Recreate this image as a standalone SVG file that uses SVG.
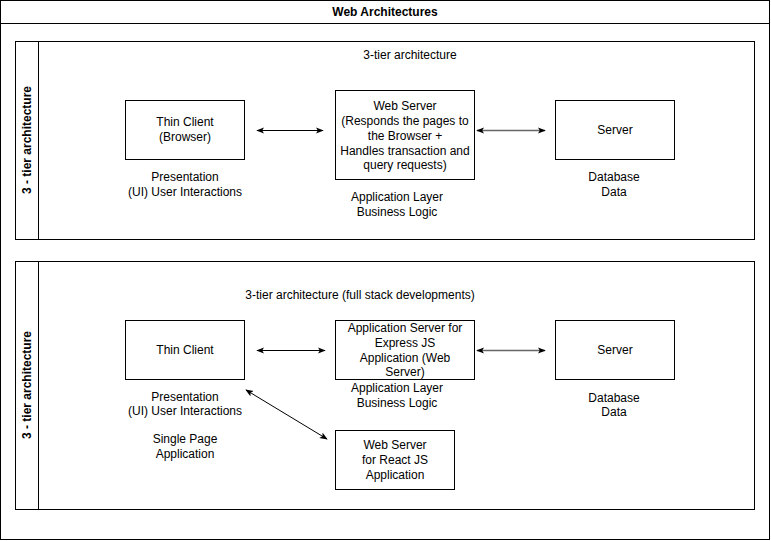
<svg xmlns="http://www.w3.org/2000/svg" width="771" height="541" viewBox="0 0 771 541">
  <style>
    .frame { fill: #ffffff; stroke: #000000; stroke-width: 1; }
    .box { fill: #ffffff; stroke: #000000; stroke-width: 1; }
    text { font-family: "Liberation Sans", Arial, sans-serif; font-size: 12px; fill: #000000; }
    .title { font-weight: bold; }
    .lane { font-weight: bold; }
    .edge { fill: none; stroke: #000000; stroke-width: 1; }
    .edge-grey { fill: none; stroke: #666666; stroke-width: 1.5; }
  </style>
  <defs>
    <marker id="arrowEnd" viewBox="0 0 10 10" refX="9" refY="5" markerWidth="8" markerHeight="8" markerUnits="userSpaceOnUse" orient="auto">
      <path d="M0,1 L10,5 L0,9 L2.5,5 Z" fill="#000000"/>
    </marker>
    <marker id="arrowStart" viewBox="0 0 10 10" refX="1" refY="5" markerWidth="8" markerHeight="8" markerUnits="userSpaceOnUse" orient="auto">
      <path d="M10,1 L0,5 L10,9 L7.5,5 Z" fill="#000000"/>
    </marker>
  </defs>

  <rect width="771" height="541" fill="#ffffff"/>

  <!-- outer container -->
  <g id="container">
    <rect class="frame" x="0.5" y="0.5" width="769" height="539"/>
    <line x1="0.5" y1="23.5" x2="769.5" y2="23.5" stroke="#000000"/>
    <text class="title" x="385" y="16" text-anchor="middle">Web Architectures</text>
  </g>

  <!-- first pool -->
  <g id="pool-top">
    <rect class="frame" x="15.5" y="41.5" width="739" height="198"/>
    <line x1="38.5" y1="41.5" x2="38.5" y2="239.5" stroke="#000000"/>
    <text class="lane" transform="translate(31 140) rotate(-90)" text-anchor="middle">3 - tier architecture</text>
    <text x="410" y="59" text-anchor="middle">3-tier architecture</text>
  </g>

  <!-- second pool -->
  <g id="pool-bottom">
    <rect class="frame" x="15.5" y="261.5" width="739" height="248"/>
    <line x1="38.5" y1="261.5" x2="38.5" y2="509.5" stroke="#000000"/>
    <text class="lane" transform="translate(31 385) rotate(-90)" text-anchor="middle">3 - tier architecture</text>
    <text x="360" y="299" text-anchor="middle">3-tier architecture (full stack developments)</text>
  </g>

  <!-- top row nodes -->
  <g id="thin-client-browser">
    <rect class="box" x="125.5" y="100.5" width="119" height="59"/>
    <text x="185" y="126" text-anchor="middle">Thin Client</text>
    <text x="185" y="141" text-anchor="middle">(Browser)</text>
  </g>
  <g id="web-server">
    <rect class="box" x="335.5" y="90.5" width="139" height="89"/>
    <text x="405" y="110" text-anchor="middle">Web Server</text>
    <text x="405" y="125" text-anchor="middle">(Responds the pages to</text>
    <text x="405" y="140" text-anchor="middle">the Browser +</text>
    <text x="405" y="155" text-anchor="middle">Handles transaction and</text>
    <text x="405" y="169" text-anchor="middle">query requests)</text>
  </g>
  <g id="db-server-top">
    <rect class="box" x="555.5" y="100.5" width="119" height="59"/>
    <text x="615" y="134" text-anchor="middle">Server</text>
  </g>
  <g id="labels-top">
    <text x="185" y="181" text-anchor="middle">Presentation</text>
    <text x="185" y="196" text-anchor="middle">(UI) User Interactions</text>
    <text x="397" y="201" text-anchor="middle">Application Layer</text>
    <text x="397" y="216" text-anchor="middle">Business Logic</text>
    <text x="614" y="181" text-anchor="middle">Database</text>
    <text x="614" y="196" text-anchor="middle">Data</text>
  </g>

  <!-- bottom row nodes -->
  <g id="thin-client">
    <rect class="box" x="125.5" y="320.5" width="119" height="59"/>
    <text x="185" y="354" text-anchor="middle">Thin Client</text>
  </g>
  <g id="app-server">
    <rect class="box" x="335.5" y="320.5" width="139" height="59"/>
    <text x="405" y="332" text-anchor="middle">Application Server for</text>
    <text x="405" y="347" text-anchor="middle">Express JS</text>
    <text x="405" y="362" text-anchor="middle">Application (Web</text>
    <text x="405" y="376" text-anchor="middle">Server)</text>
  </g>
  <g id="db-server-bottom">
    <rect class="box" x="555.5" y="320.5" width="119" height="59"/>
    <text x="615" y="354" text-anchor="middle">Server</text>
  </g>
  <g id="react-server">
    <rect class="box" x="335.5" y="430.5" width="119" height="59"/>
    <text x="395" y="449" text-anchor="middle">Web Server</text>
    <text x="395" y="464" text-anchor="middle">for React JS</text>
    <text x="395" y="479" text-anchor="middle">Application</text>
  </g>
  <g id="labels-bottom">
    <text x="185" y="401" text-anchor="middle">Presentation</text>
    <text x="185" y="415" text-anchor="middle">(UI) User Interactions</text>
    <text x="185" y="443" text-anchor="middle">Single Page</text>
    <text x="185" y="458" text-anchor="middle">Application</text>
    <text x="397" y="392" text-anchor="middle">Application Layer</text>
    <text x="397" y="407" text-anchor="middle">Business Logic</text>
    <text x="614" y="402" text-anchor="middle">Database</text>
    <text x="614" y="416" text-anchor="middle">Data</text>
  </g>

  <!-- connectors -->
  <g id="connectors">
    <line class="edge" x1="257" y1="130.5" x2="323" y2="130.5" marker-start="url(#arrowStart)" marker-end="url(#arrowEnd)"/>
    <line class="edge-grey" x1="477" y1="130.5" x2="545" y2="130.5" marker-start="url(#arrowStart)" marker-end="url(#arrowEnd)"/>
    <line class="edge" x1="257" y1="350.5" x2="325" y2="350.5" marker-start="url(#arrowStart)" marker-end="url(#arrowEnd)"/>
    <line class="edge-grey" x1="477" y1="350.5" x2="545" y2="350.5" marker-start="url(#arrowStart)" marker-end="url(#arrowEnd)"/>
    <line class="edge" x1="246" y1="390" x2="327" y2="439" marker-start="url(#arrowStart)" marker-end="url(#arrowEnd)"/>
  </g>
</svg>
